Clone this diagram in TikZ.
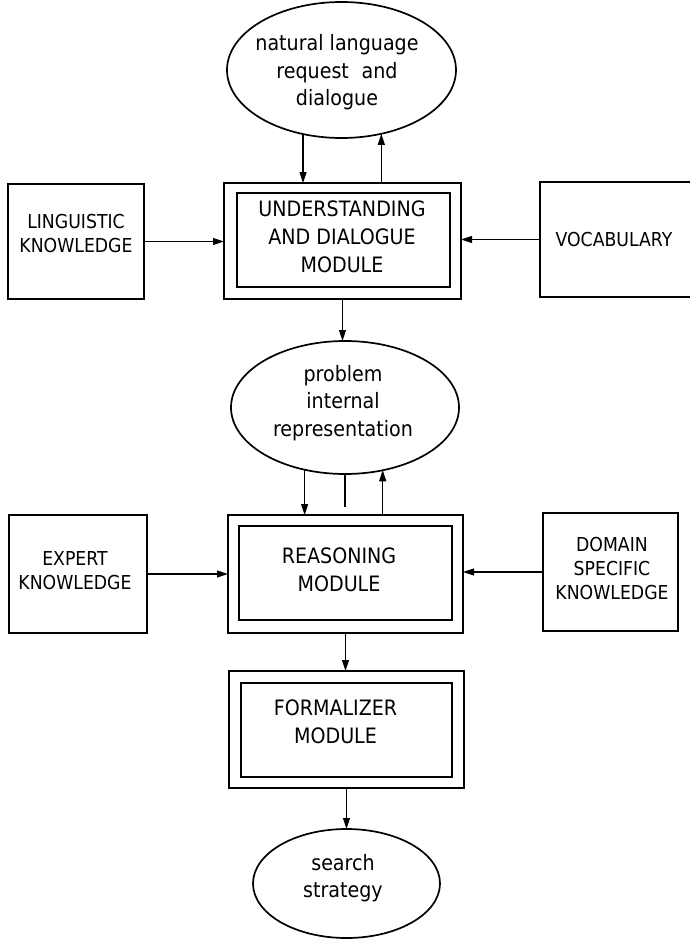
\documentclass[tikz,border=0pt]{standalone}
\usepackage{fontspec}
\setmainfont{DejaVu Sans}[FakeStretch=0.9]
\usetikzlibrary{arrows.meta,shapes.geometric}

\begin{document}
\begin{tikzpicture}[x=1pt,y=-1pt,
  sidebox/.style={draw, rectangle, line width=2.1pt, inner sep=0pt, outer sep=0pt},
  modout/.style={draw, rectangle, line width=2.6pt, inner sep=0pt, outer sep=0pt},
  modin/.style={draw, rectangle, line width=1.3pt, inner sep=0pt, outer sep=0pt},
  oval/.style={draw, ellipse, line width=1.7pt, inner sep=0pt, outer sep=0pt},
  sidetext/.style={inner sep=0pt, align=center, font=\fontsize{19.2}{24}\selectfont},
  modtext/.style={inner sep=0pt, align=center, font=\fontsize{21.2}{28}\selectfont},
  ovaltext/.style={inner sep=0pt, align=center, font=\fontsize{21.2}{27.5}\selectfont},
  arr/.style={line width=1.1pt, -{Triangle[length=11pt,width=7pt]}},
  link/.style={line width=1.1pt}]

\useasboundingbox (0,0) rectangle (689,940);

% top: request ellipse and understanding module
\node[oval, minimum width=229pt, minimum height=136pt] (nl) at (341.5,70) {};
\node[ovaltext] (nl-t) at (337,72.5) {natural language\\request\hspace{0.6em}and\\dialogue};

\node[modout, minimum width=237pt, minimum height=116pt] (udm) at (342.5,241) {};
\node[modin, minimum width=213pt, minimum height=94pt] (udm-in) at (343.5,240) {};
\node[modtext] (udm-t) at (342,237) {UNDERSTANDING\\AND DIALOGUE\\MODULE};

\node[sidebox, minimum width=136pt, minimum height=115pt] (ling) at (76,241.5) {};
\node[sidetext] (ling-t) at (76,234) {LINGUISTIC\\KNOWLEDGE};

\node[sidebox, minimum width=160pt, minimum height=115pt] (voc) at (620,239.5) {};
\node[sidetext] (voc-t) at (614,240) {VOCABULARY};

% middle: internal representation and reasoning module
\node[oval, minimum width=228pt, minimum height=133pt] (pir) at (345,407.5) {};
\node[ovaltext] (pir-t) at (343,403) {problem\\internal\\representation};

\node[modout, minimum width=235pt, minimum height=118pt] (rea) at (345.5,574) {};
\node[modin, minimum width=213pt, minimum height=94pt] (rea-in) at (345.5,573) {};
\node[modtext] (rea-t) at (339,569.5) {REASONING\\MODULE};

\node[sidebox, minimum width=138pt, minimum height=118pt] (exp) at (78,574) {};
\node[sidetext] (exp-t) at (75,571) {EXPERT\\KNOWLEDGE};

\node[sidebox, minimum width=135pt, minimum height=118pt] (dom) at (610.5,572) {};
\node[sidetext] (dom-t) at (612,568.5) {DOMAIN\\SPECIFIC\\KNOWLEDGE};

% bottom: formalizer and search strategy
\node[modout, minimum width=235pt, minimum height=117pt] (fml) at (346.5,729.5) {};
\node[modin, minimum width=211pt, minimum height=94pt] (fml-in) at (346.5,730) {};
\node[modtext] (fml-t) at (335.5,722) {FORMALIZER\\MODULE};

\node[oval, minimum width=187pt, minimum height=109pt] (ss) at (346.5,883.5) {};
\node[ovaltext] (ss-t) at (343,878) {search\\strategy};

\coordinate (stub) at (345,507);

% connectors
\draw[arr] (nl.239) -- (nl.239 |- udm.north);
\draw[arr] (nl.302.5 |- udm.north) -- (nl.302.5);
\draw[arr] (ling.east) -- (ling.east -| udm.west);
\draw[arr] (voc.west) -- (voc.west -| udm.east);
\draw[arr] (udm.south) -- (udm.south |- pir.north);

\draw[arr] (pir.237.3) -- (pir.237.3 |- rea.north);
\draw[link] (pir.south) -- (stub);
\draw[arr] (pir.301.2 |- rea.north) -- (pir.301.2);
\draw[arr] (exp.east) -- (exp.east -| rea.west);
\draw[arr] (dom.west) -- (dom.west -| rea.east);

\draw[arr] (rea.south) -- (rea.south |- fml.north);
\draw[arr] (fml.south) -- (fml.south |- ss.north);
\end{tikzpicture}
\end{document}
